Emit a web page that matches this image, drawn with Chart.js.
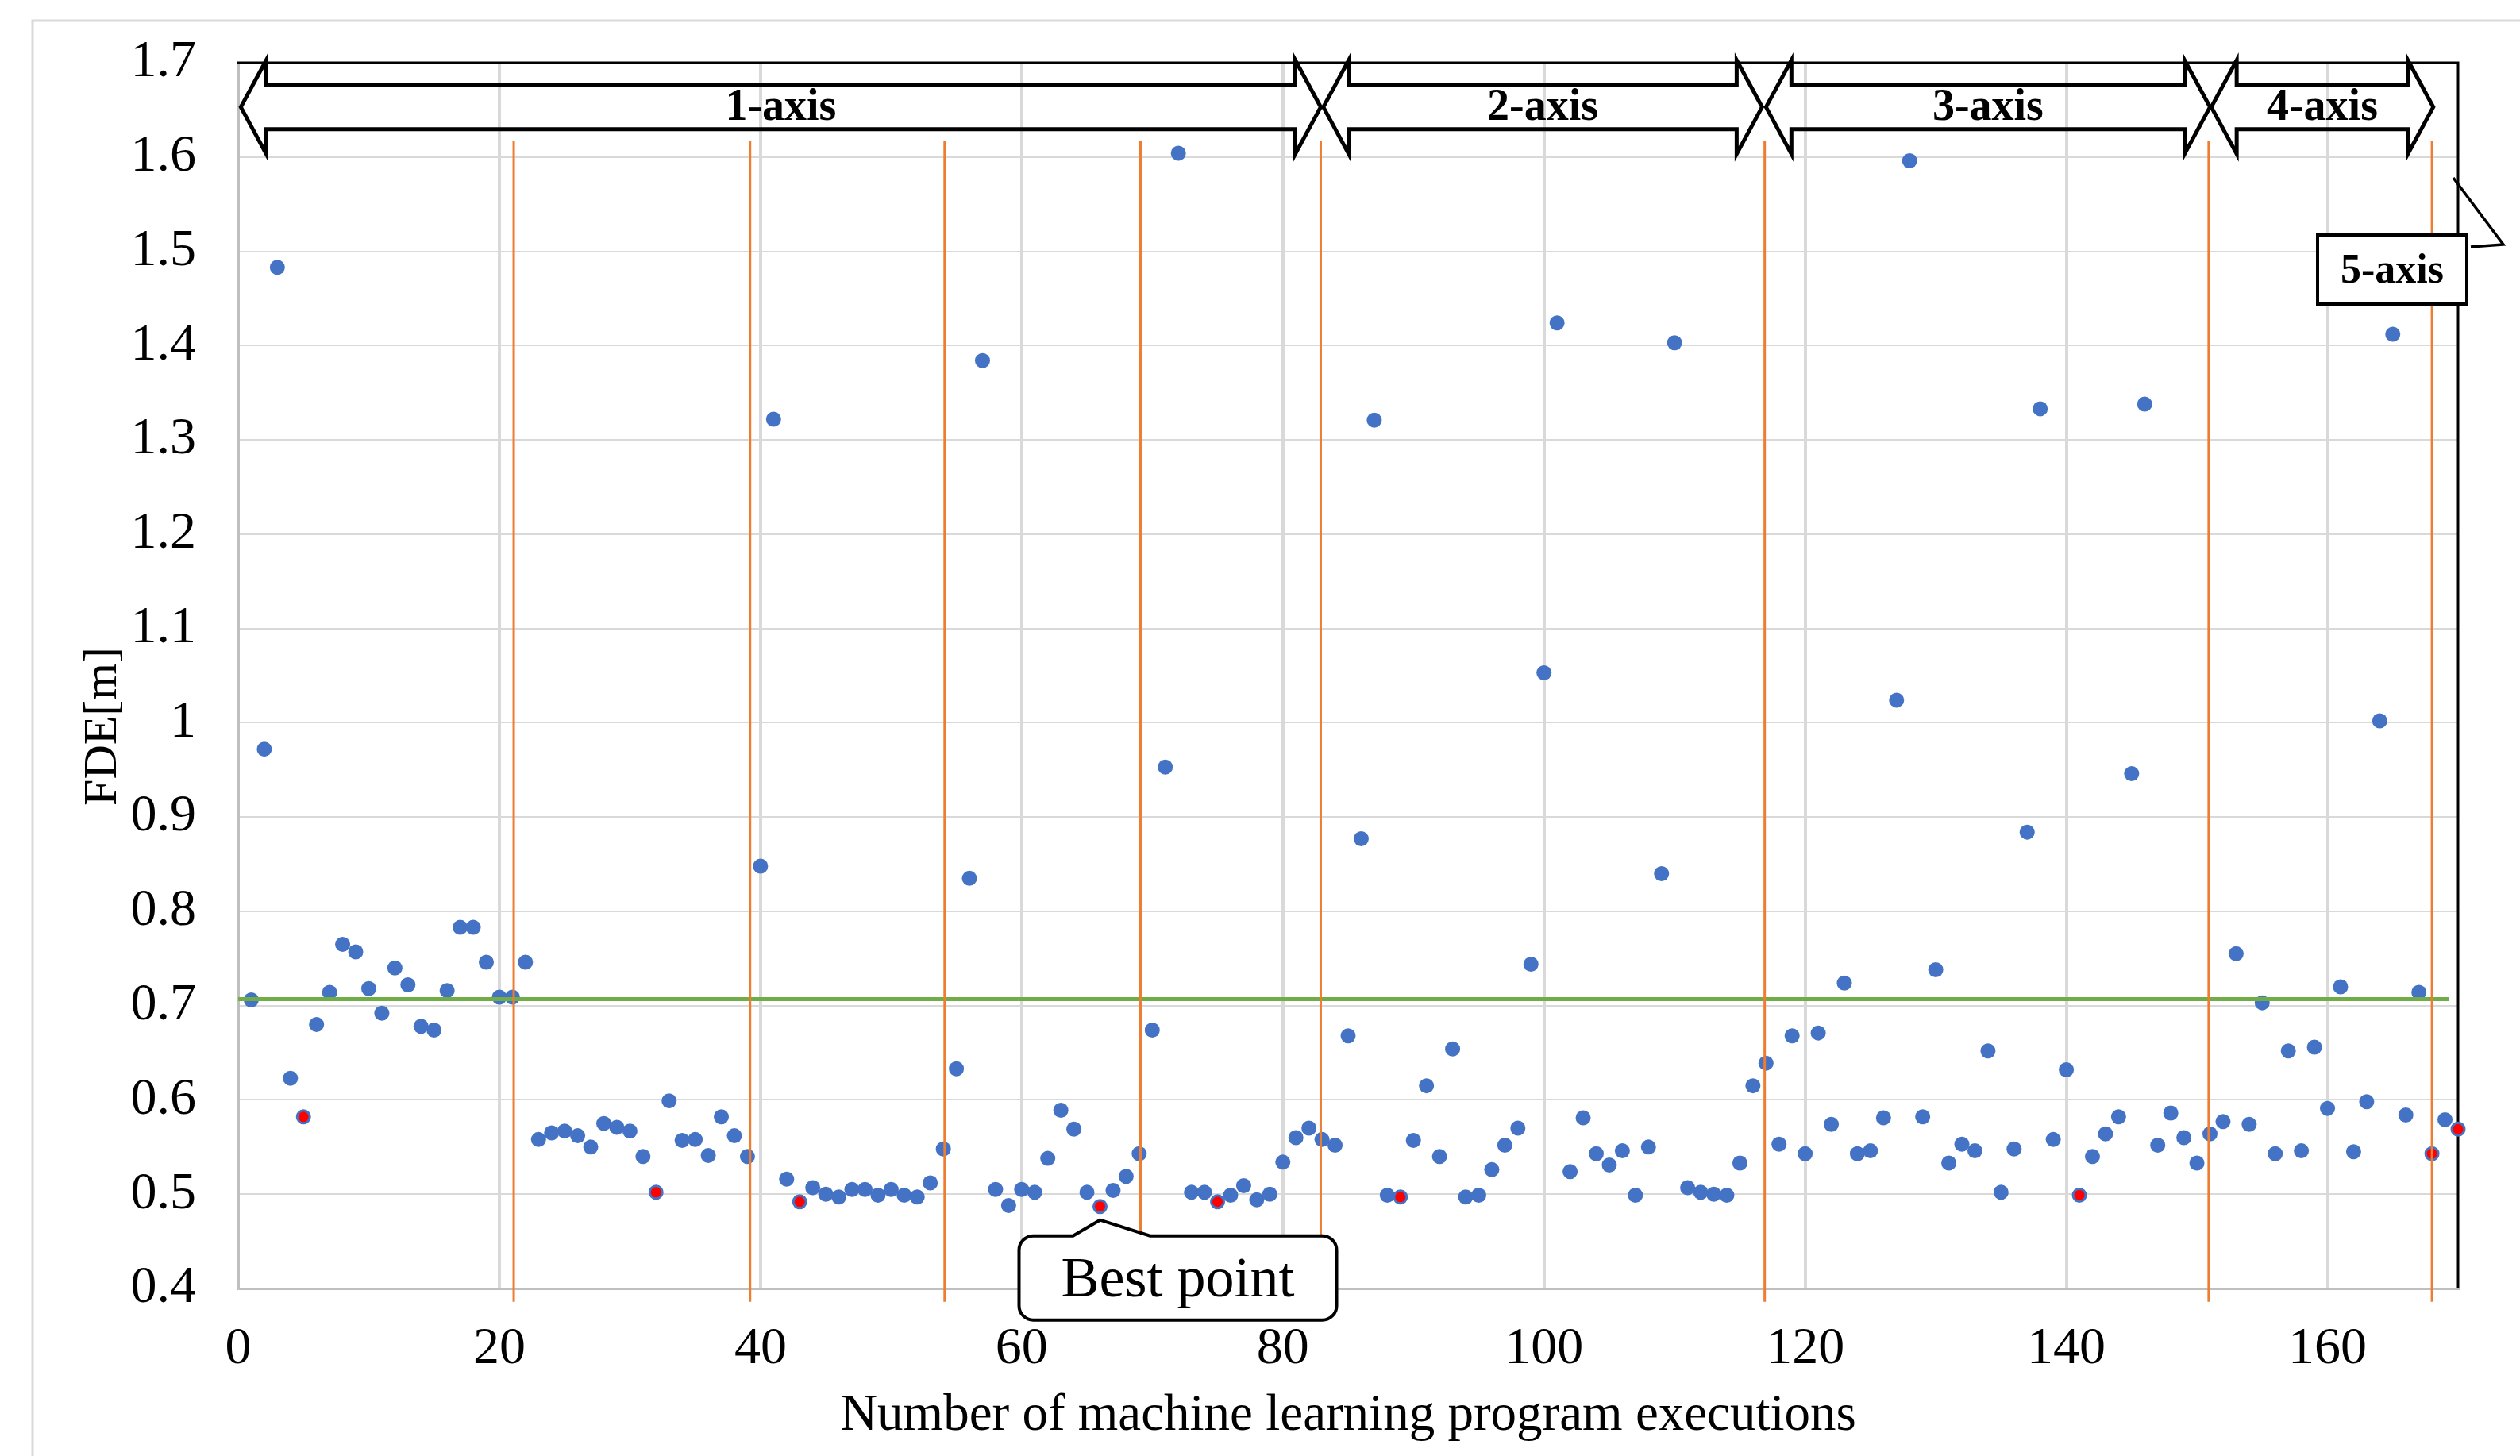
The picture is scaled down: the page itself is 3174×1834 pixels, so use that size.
<!DOCTYPE html>
<html>
<head>
<meta charset="utf-8">
<title>FDE per machine learning run</title>
<script src="https://cdn.jsdelivr.net/npm/chart.js@4.4.0/dist/chart.umd.min.js"></script>
<style>
    html, body { margin: 0; padding: 0; background: #fff; }
    #wrap { width: 3174px; height: 1834px; position: relative; }
</style>
</head>
<body>
<div id="wrap"><canvas id="fdeChart"></canvas></div>
<script>
// --- DATA ---
// FDE[m] for executions 1..170, in run order
const runFde = [
    0.706, 0.972, 1.483, 0.623, 0.582, 0.680, 0.714, 0.765, 0.757, 0.718,
    0.692, 0.740, 0.722, 0.678, 0.674, 0.716, 0.783, 0.783, 0.746, 0.709,
    0.709, 0.746, 0.558, 0.565, 0.567, 0.562, 0.550, 0.575, 0.571, 0.567,
    0.540, 0.502, 0.599, 0.557, 0.558, 0.541, 0.582, 0.562, 0.540, 0.848,
    1.322, 0.516, 0.492, 0.507, 0.500, 0.497, 0.505, 0.505, 0.499, 0.505,
    0.499, 0.497, 0.512, 0.548, 0.633, 0.835, 1.384, 0.505, 0.488, 0.505,
    0.502, 0.538, 0.589, 0.569, 0.502, 0.487, 0.504, 0.519, 0.543, 0.674,
    0.953, 1.604, 0.502, 0.502, 0.492, 0.499, 0.509, 0.494, 0.500, 0.534,
    0.560, 0.570, 0.558, 0.552, 0.668, 0.877, 1.321, 0.499, 0.497, 0.557,
    0.615, 0.540, 0.654, 0.497, 0.499, 0.526, 0.552, 0.570, 0.744, 1.053,
    1.424, 0.524, 0.581, 0.543, 0.531, 0.546, 0.499, 0.550, 0.840, 1.403,
    0.507, 0.502, 0.500, 0.499, 0.533, 0.615, 0.639, 0.553, 0.668, 0.543,
    0.671, 0.574, 0.724, 0.543, 0.546, 0.581, 1.024, 1.596, 0.582, 0.738,
    0.533, 0.553, 0.546, 0.652, 0.502, 0.548, 0.884, 1.333, 0.558, 0.632,
    0.499, 0.540, 0.564, 0.582, 0.946, 1.338, 0.552, 0.586, 0.560, 0.533,
    0.564, 0.577, 0.755, 0.574, 0.703, 0.543, 0.652, 0.546, 0.656, 0.591,
    0.720, 0.545, 0.598, 1.002, 1.412, 0.584, 0.714, 0.543, 0.579, 0.569
];
// runs marked in red (best of each block); 66 is the overall best
const bestRuns = [5, 32, 43, 66, 75, 89, 141, 168, 170];
const bestPointRun = 66;
// orange separators between parameter blocks
const phaseBreaks = [21.1, 39.2, 54.1, 69.1, 82.9, 116.9, 150.9, 168.0];
// green reference line
const baselineFde = 0.707;
const baselineEnd = 169.3;
// block arrows along the top
const phaseLabels = ['1-axis', '2-axis', '3-axis', '4-axis'];
const phaseStart = [0.2, 83.1, 117.0, 151.1];
const phaseEnd = [82.9, 116.7, 151.0, 168.1];
const lastPhaseLabel = '5-axis';
const bestPointLabel = 'Best point';

const yMin = 0.4, yMax = 1.7, yStep = 0.1;
const xMin = 0, xMax = 170, xStep = 20;

const BLUE = '#4472C4';
const RED = '#FF0000';
const ORANGE = '#ED7D31';
const GREEN = '#70AD47';
const GRID = '#d9d9d9';
const SERIF = '"Liberation Serif", "Times New Roman", serif';

// separator lines run a bit past the plot bottom, stop under the arrows
const breakTop = 1.617;
const breakBottom = 0.386;

Chart.defaults.font.family = SERIF;
Chart.defaults.color = '#000';

const isBest = ctx => bestRuns.includes(ctx.dataIndex + 1);

// --- custom drawing ---
const pageFrame = {
    id: 'pageFrame',
    beforeDraw(chart) {
        const ctx = chart.ctx;
        ctx.save();
        ctx.fillStyle = '#fff';
        ctx.fillRect(0, 0, chart.width, chart.height);
        ctx.strokeStyle = '#d9d9d9';
        ctx.lineWidth = 3;
        ctx.strokeRect(41, 26, chart.width + 20, chart.height + 20);
        ctx.restore();
    }
};

const plotBorder = {
    id: 'plotBorder',
    beforeDatasetsDraw(chart) {
        const {ctx, chartArea: a} = chart;
        ctx.save();
        ctx.strokeStyle = '#000';
        ctx.lineWidth = 3;
        ctx.beginPath();
        ctx.moveTo(a.left - 2, a.top);
        ctx.lineTo(a.right, a.top);
        ctx.lineTo(a.right, a.bottom);
        ctx.stroke();
        ctx.restore();
    }
};

function doubleArrow(ctx, x0, x1, yc) {
    const shaftH = 28, headH = 59, headL = 32;
    ctx.beginPath();
    ctx.moveTo(x0, yc);
    ctx.lineTo(x0 + headL, yc - headH);
    ctx.lineTo(x0 + headL, yc - shaftH);
    ctx.lineTo(x1 - headL, yc - shaftH);
    ctx.lineTo(x1 - headL, yc - headH);
    ctx.lineTo(x1, yc);
    ctx.lineTo(x1 - headL, yc + headH);
    ctx.lineTo(x1 - headL, yc + shaftH);
    ctx.lineTo(x0 + headL, yc + shaftH);
    ctx.lineTo(x0 + headL, yc + headH);
    ctx.closePath();
    ctx.stroke();
}

const annotations = {
    id: 'annotations',
    afterDatasetsDraw(chart) {
        const {ctx, chartArea: a} = chart;
        const xs = chart.scales.x, ys = chart.scales.y;
        ctx.save();

        // block arrows + labels
        const yc = ys.getPixelForValue(1.653);
        ctx.strokeStyle = '#000';
        ctx.lineWidth = 5;
        ctx.lineJoin = 'miter';
        ctx.font = 'bold 56px ' + SERIF;
        ctx.fillStyle = '#000';
        ctx.textAlign = 'center';
        ctx.textBaseline = 'middle';
        phaseLabels.forEach((lbl, i) => {
            const x0 = xs.getPixelForValue(phaseStart[i]);
            const x1 = xs.getPixelForValue(phaseEnd[i]);
            doubleArrow(ctx, x0, x1, yc);
            ctx.fillText(lbl, (x0 + x1) / 2, yc + 2);
        });

        // "5-axis" callout at the right edge
        const bx0 = a.right - 177, bx1 = a.right + 11;
        const by0 = a.top + 217, by1 = a.top + 304;
        ctx.lineWidth = 3.5;
        ctx.beginPath();
        ctx.moveTo(a.right - 6, a.top + 145);
        ctx.lineTo(a.right + 57, a.top + 229);
        ctx.lineTo(a.right + 16, a.top + 232);
        ctx.stroke();
        ctx.fillStyle = '#fff';
        ctx.fillRect(bx0, by0, bx1 - bx0, by1 - by0);
        ctx.lineWidth = 4;
        ctx.strokeRect(bx0, by0, bx1 - bx0, by1 - by0);
        ctx.fillStyle = '#000';
        ctx.font = 'bold 52px ' + SERIF;
        ctx.fillText(lastPhaseLabel, (bx0 + bx1) / 2, (by0 + by1) / 2 + 3);

        // "Best point" callout under run 66
        const tx = xs.getPixelForValue(bestPointRun);
        const ty = ys.getPixelForValue(runFde[bestPointRun - 1]) + 17;
        const l = tx - 102, r = tx + 298, t = ty + 20, b = ty + 126, rad = 18;
        ctx.beginPath();
        ctx.moveTo(l + rad, t);
        ctx.lineTo(tx - 34, t);
        ctx.lineTo(tx, ty);
        ctx.lineTo(tx + 63, t);
        ctx.lineTo(r - rad, t);
        ctx.arcTo(r, t, r, t + rad, rad);
        ctx.lineTo(r, b - rad);
        ctx.arcTo(r, b, r - rad, b, rad);
        ctx.lineTo(l + rad, b);
        ctx.arcTo(l, b, l, b - rad, rad);
        ctx.lineTo(l, t + rad);
        ctx.arcTo(l, t, l + rad, t, rad);
        ctx.closePath();
        ctx.fillStyle = '#fff';
        ctx.fill();
        ctx.lineWidth = 4;
        ctx.stroke();
        ctx.fillStyle = '#000';
        ctx.font = '72px ' + SERIF;
        ctx.fillText(bestPointLabel, (l + r) / 2, (t + b) / 2 + 4);

        ctx.restore();
    }
};

const axisTitles = {
    id: 'axisTitles',
    afterDraw(chart) {
        const {ctx, chartArea: a} = chart;
        ctx.save();
        ctx.fillStyle = '#000';
        ctx.textAlign = 'center';
        ctx.textBaseline = 'alphabetic';
        ctx.font = '65px ' + SERIF;
        ctx.fillText('Number of machine learning program executions', (a.left + a.right) / 2, a.bottom + 178);
        ctx.translate(146, a.top + 836);
        ctx.rotate(-Math.PI / 2);
        ctx.font = '60px ' + SERIF;
        ctx.fillText('FDE[m]', 0, 0);
        ctx.restore();
    }
};

// --- datasets ---
const separatorSets = phaseBreaks.map(xb => ({
    type: 'line',
    data: [{x: xb, y: breakBottom}, {x: xb, y: breakTop}],
    borderColor: ORANGE,
    borderWidth: 3,
    pointRadius: 0,
    clip: false
}));

const baselineSet = {
    type: 'line',
    data: [{x: xMin, y: baselineFde}, {x: baselineEnd, y: baselineFde}],
    borderColor: GREEN,
    borderWidth: 5,
    pointRadius: 0,
    clip: false
};

const fdeSet = {
    type: 'scatter',
    data: runFde.map((v, i) => ({x: i + 1, y: v})),
    pointRadius: ctx => isBest(ctx) ? 8 : 9.5,
    pointBackgroundColor: ctx => isBest(ctx) ? RED : BLUE,
    pointBorderColor: BLUE,
    pointBorderWidth: ctx => isBest(ctx) ? 3 : 0,
    clip: false
};

new Chart(document.getElementById('fdeChart'), {
    type: 'scatter',
    data: { datasets: [...separatorSets, baselineSet, fdeSet] },
    options: {
        responsive: true,
        maintainAspectRatio: false,
        devicePixelRatio: 1,
        animation: false,
        events: [],
        layout: { padding: { top: 79, right: 78, left: 0, bottom: 0 } },
        plugins: {
            legend: { display: false },
            tooltip: { enabled: false },
            title: { display: false }
        },
        scales: {
            x: {
                type: 'linear',
                min: xMin,
                max: xMax,
                afterFit: s => { s.height = 211; s.paddingLeft = 0; s.paddingRight = 0; },
                afterBuildTicks: s => { s.ticks = s.ticks.filter(t => t.value % xStep === 0); },
                ticks: { stepSize: xStep, includeBounds: false, padding: 37, font: { size: 66 } },
                grid: {
                    drawTicks: false,
                    lineWidth: 4,
                    color: c => (c.tick && c.tick.value === 0) ? 'rgba(0,0,0,0)' : GRID
                },
                border: { color: '#bfbfbf', width: 3 }
            },
            y: {
                type: 'linear',
                min: yMin,
                max: yMax,
                afterFit: s => { s.width = 300; s.paddingTop = 0; s.paddingBottom = 0; },
                ticks: {
                    stepSize: yStep,
                    padding: 53,
                    font: { size: 66 },
                    callback: v => String(+v.toFixed(1))
                },
                grid: {
                    drawTicks: false,
                    lineWidth: 2,
                    color: c => (c.tick && Math.abs(c.tick.value - yMin) < 1e-6) ? 'rgba(0,0,0,0)' : GRID
                },
                border: { color: '#bfbfbf', width: 3 }
            }
        }
    },
    plugins: [pageFrame, plotBorder, annotations, axisTitles]
});
</script>
</body>
</html>
